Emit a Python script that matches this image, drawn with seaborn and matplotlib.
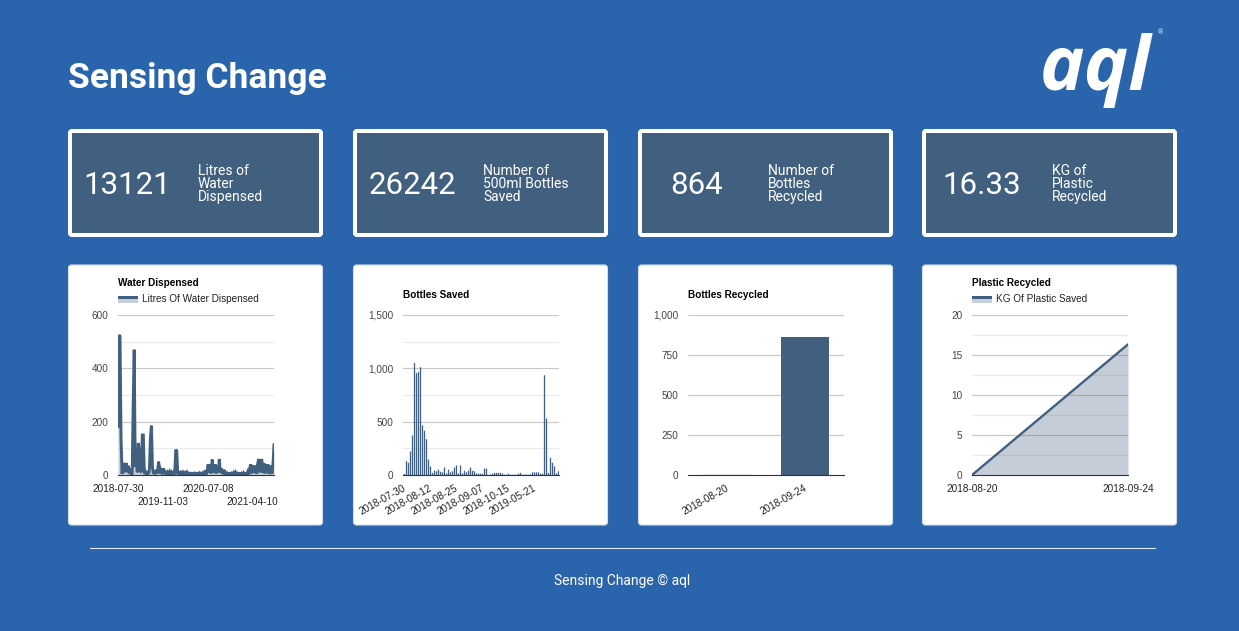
# -*- coding: utf-8 -*-
import numpy as np
import matplotlib
matplotlib.use("Agg")
import matplotlib.pyplot as plt
from matplotlib.patches import FancyBboxPatch, Rectangle
from matplotlib.ticker import MultipleLocator, FuncFormatter
from matplotlib.transforms import ScaledTranslation
import seaborn as sns

# stat boxes
stat_values = ["13121", "26242", "864", "16.33"]
stat_labels = [["Litres of", "Water", "Dispensed"],
               ["Number of", "500ml Bottles", "Saved"],
               ["Number of", "Bottles", "Recycled"],
               ["KG of", "Plastic", "Recycled"]]

# water dispensed, one value per pixel column of the chart
water_values = [180, 525, 520, 140, 4, 30, 45, 10, 45, 12, 35, 6, 25, 2, 5, 265,
                470, 30, 70, 10, 120, 90, 10, 15, 150, 150, 5, 12, 2, 14, 3, 20,
                140, 185, 30, 4, 15, 3, 20, 6, 50, 30, 5, 14, 3, 25, 4, 15,
                2, 10, 3, 12, 2, 10, 3, 9, 2, 95, 90, 3, 8, 2, 9, 3,
                10, 3, 14, 3, 10, 2, 6, 1, 5, 1, 5, 1, 6, 1, 5, 2,
                7, 1, 6, 2, 8, 1, 10, 3, 15, 40, 8, 40, 6, 58, 8, 25,
                40, 6, 30, 10, 60, 8, 25, 4, 20, 3, 10, 1, 6, 1, 5, 1,
                6, 1, 8, 1, 10, 2, 6, 1, 5, 1, 6, 1, 8, 2, 5, 2,
                12, 2, 25, 40, 6, 35, 8, 35, 25, 5, 45, 60, 10, 55, 55, 8,
                45, 6, 40, 8, 40, 4, 20, 35, 5, 40, 115]
water_ticks = [0, 44, 89, 133]
water_ticklabels = ["2018-07-30", "2019-11-03", "2020-07-08", "2021-04-10"]

# bottles saved
bottle_values = [10, 130, 115, 220, 370, 1050, 955, 965, 1010, 465, 415, 335, 145, 80,
                 20, 40, 35, 50, 30, 25, 70, 15, 50, 25, 35, 70, 90, 15, 90, 15,
                 40, 25, 40, 70, 40, 35, 15, 12, 12, 12, 60, 60, 0, 5, 12, 20,
                 20, 20, 20, 12, 3, 3, 12, 3, 3, 3, 3, 12, 20, 3, 3, 3,
                 3, 5, 25, 25, 25, 25, 12, 12, 935, 530, 20, 160, 115, 80, 15, 35]
bottle_ticks = [0, 13, 26, 39, 52, 65]
bottle_ticklabels = ["2018-07-30", "2018-08-12", "2018-08-25",
                     "2018-09-07", "2018-10-15", "2019-05-21"]

# bottles recycled
recycled_dates = ["2018-08-20", "2018-09-24"]
recycled_values = [6, 864]

# plastic recycled
plastic_dates = ["2018-08-20", "2018-09-24"]
plastic_values = [0, 16.33]

BLUE = "#2964ad"
SLATE = "#415f7f"
W, H = 1239, 631

sns.set_theme(style="white")
plt.rcParams["font.family"] = ["Liberation Sans", "DejaVu Sans"]

fig = plt.figure(figsize=(W / 100, H / 100), dpi=100, facecolor=BLUE)

# page layer in pixel coordinates
page = fig.add_axes([0, 0, 1, 1], zorder=0)
page.set_xlim(0, W)
page.set_ylim(H, 0)
page.axis("off")

page.text(68, 88, "Sensing Change", color="white", fontsize=25.5, fontweight="bold",
          family="Roboto", va="baseline")
page.text(1040, 90, "aql", color="white", fontsize=54, fontweight="bold", style="italic",
          family="Open Sans", va="baseline")
page.text(1160, 33, "®", color="#dfe8f3", fontsize=5, family="Roboto", ha="center", va="center")

box_left = [68, 353, 638, 922]
num_centre = [127, 412.5, 697, 982]
label_left = [198, 483, 768, 1052]
for i in range(4):
    page.add_patch(FancyBboxPatch((box_left[i] + 2, 131), 251, 104,
                                  boxstyle="round,pad=0,rounding_size=2",
                                  fc=SLATE, ec="white", lw=2.9))
    page.text(num_centre[i], 185, stat_values[i], color="white", fontsize=22.5,
              family="Roboto", ha="center", va="center")
    for j, line in enumerate(stat_labels[i]):
        page.text(label_left[i], 171 + 13 * j, line, color="white", fontsize=10,
                  family="Roboto", va="center")
    # chart card
    page.add_patch(FancyBboxPatch((box_left[i] + 0.5, 265), 254, 260,
                                  boxstyle="round,pad=0,rounding_size=3",
                                  fc="white", ec="#d5dbe3", lw=0.8))

page.plot([90, 1155], [548, 548], color="#e4ebf4", lw=0.8)
page.text(622, 581.5, "Sensing Change © aql", color="white", fontsize=10,
          family="Roboto", ha="center", va="center")


def chart_axes(card_left, title, legend, y_top, major, minor):
    left = card_left + 50
    ax = fig.add_axes([left / W, 1 - 475 / H, 156 / W, 160 / H], zorder=2)
    ax.patch.set_alpha(0)
    ax.set_ylim(0, y_top)
    ax.yaxis.set_major_locator(MultipleLocator(major))
    ax.yaxis.set_major_formatter(FuncFormatter(lambda v, p: f"{int(v):,}"))
    ax.set_axisbelow(True)
    ax.grid(True, axis="y", which="major", color="#c8c8c8", lw=0.85)
    if minor:
        ax.yaxis.set_minor_locator(MultipleLocator(minor))
        ax.grid(True, axis="y", which="minor", color="#ebebeb", lw=0.85)
    ax.grid(False, axis="x")
    ax.tick_params(axis="both", which="both", length=0)
    ax.tick_params(axis="y", pad=7, labelsize=7.2, labelcolor="#444444")
    ax.tick_params(axis="x", pad=6.5, labelsize=7.2, labelcolor="#222222")
    for name, spine in ax.spines.items():
        spine.set_visible(name == "bottom")
    ax.spines["bottom"].set_color("#333333")
    ax.spines["bottom"].set_linewidth(0.8)
    ax.spines["bottom"].set_zorder(6)
    pad = 21 if legend else 12.5
    ax.set_title(title, loc="left", fontsize=7.2, fontweight="bold", color="black", pad=pad)
    if legend:
        page.add_patch(Rectangle((left, 296), 20, 7, fc="#c6d0da", ec="none"))
        page.add_patch(Rectangle((left, 296), 20, 3.3, fc=SLATE, ec="none"))
        page.text(left + 24, 299, legend, fontsize=7.2, color="#222222", va="center")
    return ax


def nudge_labels(ax, dx_px):
    # small shift of rotated labels, same as the browser puts them
    shift = ScaledTranslation(dx_px / 100, 0, fig.dpi_scale_trans)
    for label in ax.get_xticklabels():
        label.set_transform(label.get_transform() + shift)


# water dispensed
ax1 = chart_axes(68, "Water Dispensed", "Litres Of Water Dispensed", 600, 200, 100)
x1 = np.arange(len(water_values))
ax1.fill_between(x1, water_values, color=SLATE, alpha=0.3, lw=0)
sns.lineplot(x=x1, y=water_values, ax=ax1, color=SLATE, linewidth=2.1, estimator=None,
             solid_joinstyle="miter")
ax1.set_xlim(0, len(water_values) - 1)
ax1.set_xticks(water_ticks)
ax1.set_xticklabels(water_ticklabels)
# the labels sit on two rows
for tick in ax1.xaxis.get_major_ticks()[1::2]:
    tick.set_pad(6.5 + 9.4)

# bottles saved
ax2 = chart_axes(353, "Bottles Saved", None, 1500, 500, 250)
sns.barplot(x=np.arange(len(bottle_values)), y=bottle_values, ax=ax2, color=SLATE,
            saturation=1, width=0.65, linewidth=0, edgecolor="none")
for bar in ax2.patches:
    bar.set_snap(False)
# quarter bar shift puts the bars on whole pixels, otherwise they blur together
ax2.set_xlim(-0.75, len(bottle_values) - 0.75)
ax2.set_xticks(bottle_ticks)
ax2.set_xticklabels(bottle_ticklabels, rotation=29, ha="right", rotation_mode="anchor")
ax2.tick_params(axis="x", pad=6)
nudge_labels(ax2, -2)

# bottles recycled
ax3 = chart_axes(638, "Bottles Recycled", None, 1000, 250, None)
sns.barplot(x=recycled_dates, y=recycled_values, ax=ax3, color=SLATE, saturation=1, width=0.61,
            linewidth=0, edgecolor="none")
# the near-zero bar only shows as a faint strip
ax3.patches[0].set_alpha(0.12)
ax3.set_xlim(-0.5, 1.5)
ax3.set_xticks(range(len(recycled_dates)))
ax3.set_xticklabels(recycled_dates, rotation=29, ha="right", rotation_mode="anchor")
ax3.tick_params(axis="x", pad=6)
nudge_labels(ax3, -1.5)

# plastic recycled
ax4 = chart_axes(922, "Plastic Recycled", "KG Of Plastic Saved", 20, 5, 2.5)
x4 = np.arange(len(plastic_values))
ax4.fill_between(x4, plastic_values, color=SLATE, alpha=0.3, lw=0)
sns.lineplot(x=x4, y=plastic_values, ax=ax4, color=SLATE, linewidth=1.7, estimator=None)
ax4.set_xlim(0, 1)
ax4.set_xticks(x4)
ax4.set_xticklabels(plastic_dates)

for ax in [ax1, ax2, ax3, ax4]:
    ax.set_xlabel("")
    ax.set_ylabel("")

fig.savefig("out.png", dpi=100, facecolor=BLUE)
